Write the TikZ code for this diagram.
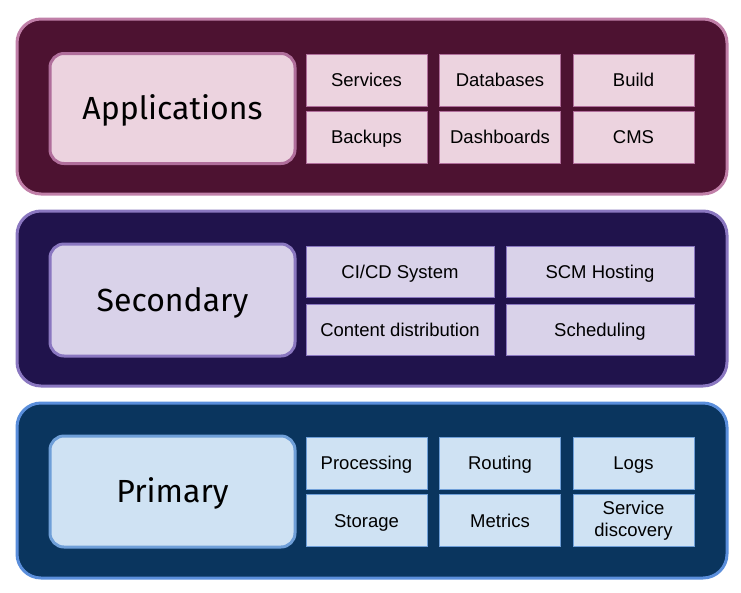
\documentclass[tikz,border=0pt]{standalone}
\usepackage{fontspec}
\setmainfont{Liberation Sans}
\newfontfamily\bigfont{Fira Sans}
\begin{document}
\begin{tikzpicture}[x=1pt,y=-1pt,
  layer/.style={draw=#1, line width=3pt, rounded corners=24pt},
  labelbox/.style={draw=#1, line width=3pt, rounded corners=14pt, inner sep=0pt,
    text height=22pt, text depth=0pt,
    font=\bigfont\fontsize{32}{38}\selectfont, text=black},
  item/.style={draw=#1, line width=1pt, inner sep=0pt, align=center,
    font=\fontsize{18.5}{21.5}\selectfont, text=black},
  oneline/.style={text height=13.2pt, text depth=0pt}]
\definecolor{aBg}{HTML}{4D1231}
\definecolor{aBd}{HTML}{C07FA8}
\definecolor{aIn}{HTML}{ECD3DF}
\definecolor{aIb}{HTML}{B06E9B}
\definecolor{sBg}{HTML}{20134C}
\definecolor{sBd}{HTML}{8A77C0}
\definecolor{sIn}{HTML}{D9D2E9}
\definecolor{sIb}{HTML}{8A77C0}
\definecolor{pBg}{HTML}{0A355E}
\definecolor{pBd}{HTML}{5A8EDB}
\definecolor{pIn}{HTML}{CFE2F3}
\definecolor{pIb}{HTML}{6F9FD8}
\useasboundingbox[fill=white] (0,0) rectangle (741,592);
% layers
\node[layer=aBd, fill=aBg, minimum width=710pt, minimum height=175pt, inner sep=0pt] (app) at (372,106.5) {};
\node[layer=sBd, fill=sBg, minimum width=710pt, minimum height=175pt, inner sep=0pt] (sec) at (372,298.5) {};
\node[layer=pBd, fill=pBg, minimum width=710pt, minimum height=175pt, inner sep=0pt] (pri) at (372,490.5) {};
% label boxes
\node[labelbox=aIb, fill=aIn, minimum width=245pt, minimum height=110pt] (appl) at (172.5,108.5) {Applications};
\node[labelbox=sIb, fill=sIn, minimum width=245pt, minimum height=112pt] (secl) at (172.5,300) {Secondary};
\node[labelbox=pIb, fill=pIn, minimum width=245pt, minimum height=111pt] (pril) at (172.5,491.5) {Primary};
% application items
\begin{scope}[every node/.style={item=aIb, fill=aIn, oneline, minimum width=121pt, minimum height=52pt}]
\node (services) at (366.5,80) {Services};
\node (databases) at (500,80) {Databases};
\node (build) at (633.5,80) {Build};
\node (backups) at (366.5,137) {Backups};
\node (dashboards) at (500,137) {Dashboards};
\node (cms) at (633.5,137) {CMS};
\end{scope}
% secondary items
\begin{scope}[every node/.style={item=sIb, fill=sIn, oneline, minimum width=188pt, minimum height=51pt}]
\node (cicd) at (400,271.5) {CI/CD System};
\node (scm) at (600,271.5) {SCM Hosting};
\node (cdn) at (400,329.5) {Content distribution};
\node (sched) at (600,329.5) {Scheduling};
\end{scope}
% primary items
\begin{scope}[every node/.style={item=pIb, fill=pIn, minimum width=121pt, minimum height=52pt}]
\node[oneline] (proc) at (366.5,463) {Processing};
\node[oneline] (routing) at (500,463) {Routing};
\node[oneline] (logs) at (633.5,463) {Logs};
\node[oneline] (storage) at (366.5,520.5) {Storage};
\node[oneline] (metrics) at (500,520.5) {Metrics};
\node (sd) at (633.5,520.5) {Service\\discovery};
\end{scope}
\end{tikzpicture}
\end{document}
